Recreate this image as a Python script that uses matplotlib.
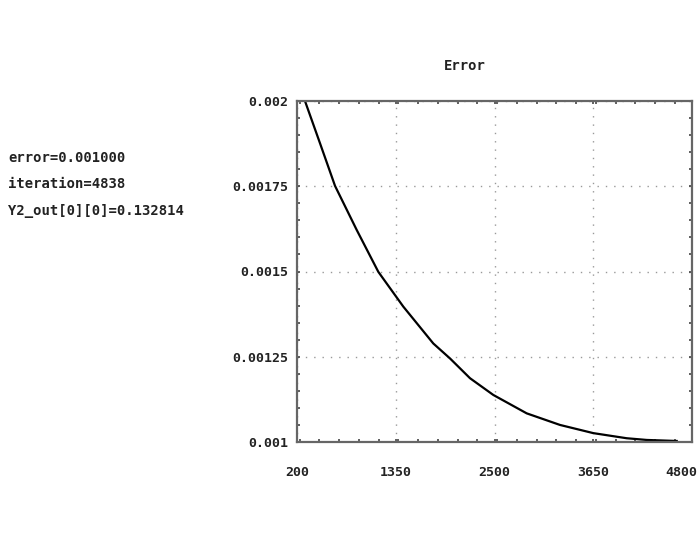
import matplotlib

matplotlib.use("Agg")
import matplotlib.pyplot as plt
from matplotlib.ticker import MultipleLocator
from matplotlib.transforms import ScaledTranslation

# values
iterations = [293, 468, 643, 895, 1147, 1438, 1787, 1982, 2215, 2486,
              2875, 3263, 3651, 4040, 4273, 4622]
errors = [0.002000, 0.001876, 0.001751, 0.001622, 0.001499, 0.001397, 0.001289, 0.001245,
          0.001187, 0.001138, 0.001084, 0.001050, 0.001026, 0.001011, 0.001006, 0.001003]

x_ticks = [200, 1350, 2500, 3650, 4800]
y_ticks = [0.001, 0.00125, 0.0015, 0.00175, 0.002]
y_tick_labels = ["0.001", "0.00125", "0.0015", "0.00175", "0.002"]

status_lines = ["error=0.001000", "iteration=4838", "Y2_out[0][0]=0.132814"]

mono = ["DejaVu Sans Mono"]

fig = plt.figure(figsize=(6.97, 5.41), dpi=100)
ax = fig.add_axes([297 / 697, 1 - 442 / 541, 395 / 697, 341 / 541])

ax.plot(iterations, errors, color="black", linewidth=1.6)

ax.set_xlim(200, 4800)
ax.set_ylim(0.001, 0.002)
ax.set_xticks(x_ticks)
ax.set_xticklabels([str(v) for v in x_ticks], family=mono, fontsize=9.5, fontweight="bold")
ax.set_yticks(y_ticks)
ax.set_yticklabels(y_tick_labels, family=mono, fontsize=9.5, fontweight="bold")
ax.xaxis.set_minor_locator(MultipleLocator(230))
ax.yaxis.set_minor_locator(MultipleLocator(0.00005))
ax.tick_params(which="both", direction="in", top=True, right=True, length=2, width=1.2, colors="#444")
ax.tick_params(axis="y", which="major", labelcolor="#222", pad=6)
ax.tick_params(axis="x", which="major", labelcolor="#222", pad=17)
ax.grid(True, which="major", linestyle=(0, (1, 5)), color="#999", linewidth=1.0)

# last x label sits against the right edge of the picture
last = ax.get_xticklabels()[-1]
last.set_horizontalalignment("right")
last.set_transform(last.get_transform() + ScaledTranslation(4 / 72, 0, fig.dpi_scale_trans))

for spine in ax.spines.values():
    spine.set_color("#666")
    spine.set_linewidth(1.6)

fig.text(465 / 697, 1 - 66 / 541, "Error", family=mono, fontsize=10, fontweight="bold",
         ha="center", va="center", color="#222")

for i, line in enumerate(status_lines):
    fig.text(8 / 697, 1 - (158 + i * 26.5) / 541, line, family=mono, fontsize=10,
             fontweight="bold", ha="left", va="center", color="#222")

fig.savefig("out.png", dpi=100)
